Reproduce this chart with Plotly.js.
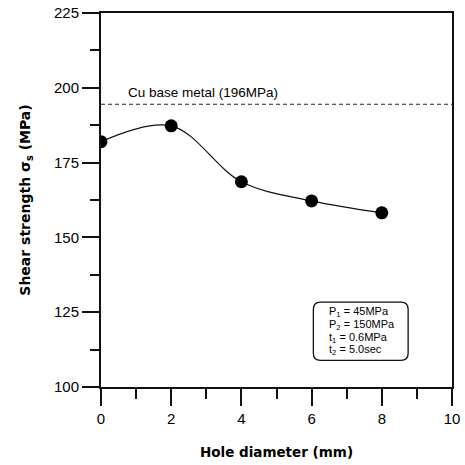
<!DOCTYPE html>
<html>
<head>
<meta charset="utf-8">
<script src="https://cdn.plot.ly/plotly-3.0.1.min.js"></script>
<style>html,body{margin:0;padding:0;background:#fff;}#chart{width:465px;height:465px;}</style>
</head>
<body>
<div id="chart"></div>
<script>
// Data
const holeDiameter = [0, 2, 4, 6, 8];
const shearStrength = [182.0, 187.3, 168.6, 162.2, 158.2];
const baseMetalLevel = 194.5;
const baseMetalLabel = "Cu base metal (196MPa)";
const conditionLines = ["P<sub>1</sub> = 45MPa", "P<sub>2</sub> = 150MPa", "t<sub>1</sub> = 0.6MPa", "t<sub>2</sub> = 5.0sec"];
const xTicks = [0, 2, 4, 6, 8, 10];
const yTicks = [100, 125, 150, 175, 200, 225];

const FONT = "Liberation Sans, Arial, sans-serif";
const TFONT = "DejaVu Sans, Liberation Sans, sans-serif";

const traces = [
  {
    x: [0, 10], y: [baseMetalLevel, baseMetalLevel], mode: "lines",
    line: {color: "#222", width: 1, dash: "4px,3px"}, hoverinfo: "skip", showlegend: false
  },
  {
    x: holeDiameter, y: shearStrength, mode: "lines+markers",
    line: {color: "#111", width: 1.2, shape: "spline", smoothing: 1},
    marker: {color: "#000", size: 13}, showlegend: false
  }
];

// rounded box in data coords
const bx0 = 6.05, bx1 = 8.75, by0 = 108.9, by1 = 128.4, rx = 0.2, ry = 2.4;
const boxPath = `M ${bx0+rx},${by1} L ${bx1-rx},${by1} Q ${bx1},${by1} ${bx1},${by1-ry} L ${bx1},${by0+ry} Q ${bx1},${by0} ${bx1-rx},${by0} L ${bx0+rx},${by0} Q ${bx0},${by0} ${bx0},${by0+ry} L ${bx0},${by1-ry} Q ${bx0},${by1} ${bx0+rx},${by1} Z`;

const boxLineAnnotations = conditionLines.map((t, i) => ({
  x: bx0 + 0.38, y: (by0 + by1) / 2, xref: "x", yref: "y", xanchor: "left", yanchor: "middle", align: "left",
  yshift: (1.5 - i) * 12.8,
  text: t, showarrow: false, font: {size: 11, family: FONT, color: "#000"}
}));

const layout = {
  width: 465, height: 465,
  margin: {l: 101, r: 13, t: 13, b: 78},
  paper_bgcolor: "#fff", plot_bgcolor: "#fff",
  font: {family: FONT, color: "#000", size: 13},
  xaxis: {
    range: [0, 10], tickvals: xTicks, ticks: "outside", ticklen: 17, tickwidth: 2, tickcolor: "#111",
    minor: {dtick: 1, ticks: "outside", ticklen: 10, tickwidth: 2, tickcolor: "#111", showgrid: false},
    showline: true, linewidth: 2, linecolor: "#111", mirror: true, showgrid: false, zeroline: false,
    tickfont: {size: 15, family: FONT},
    title: {text: "<b>Hole diameter (mm)</b>", font: {size: 13.5, family: TFONT}, standoff: 22}
  },
  yaxis: {
    range: [100, 225], tickvals: yTicks, ticks: "outside", ticklen: 17, tickwidth: 2, tickcolor: "#111",
    minor: {dtick: 12.5, ticks: "outside", ticklen: 9, tickwidth: 2, tickcolor: "#111", showgrid: false},
    showline: true, linewidth: 2, linecolor: "#111", mirror: true, showgrid: false, zeroline: false,
    tickfont: {size: 15, family: FONT},
    title: {text: "<b>Shear strength σ<sub>s</sub> (MPa)</b>", font: {size: 14, family: TFONT}, standoff: 20}
  },
  shapes: [
    {type: "path", xref: "x", yref: "y", path: boxPath, line: {color: "#111", width: 1.3}, fillcolor: "rgba(0,0,0,0)"}
  ],
  annotations: [
    {x: 0.7, y: baseMetalLevel, xref: "x", yref: "y", xanchor: "left", yanchor: "bottom", yshift: 2,
     text: baseMetalLabel, showarrow: false, font: {size: 13.5, family: FONT}}
  ].concat(boxLineAnnotations)
};

Plotly.newPlot("chart", traces, layout, {displayModeBar: false, staticPlot: true});
</script>
</body>
</html>
